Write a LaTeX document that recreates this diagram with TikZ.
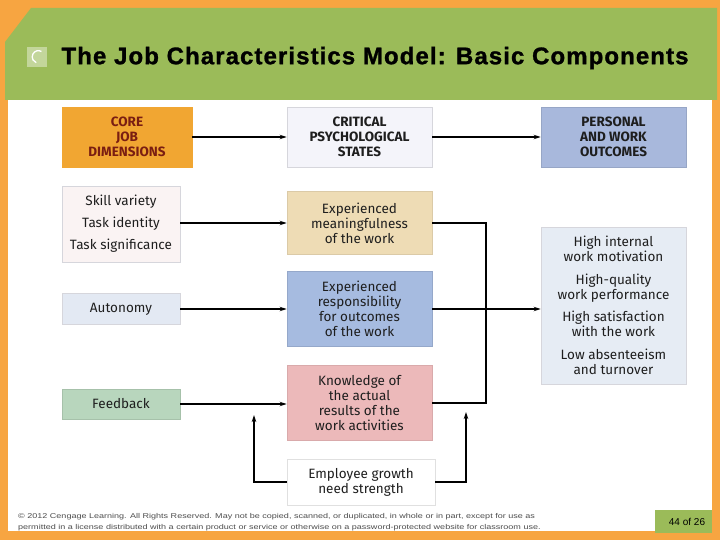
\documentclass[tikz,border=0pt]{standalone}
\usepackage{fontspec}
\setmainfont{Fira Sans}
\newfontfamily\titlefont[LetterSpace=4.5,FakeBold=1.2]{Liberation Sans}
\newfontfamily\footfont{Liberation Sans}
\usetikzlibrary{arrows.meta}
\definecolor{frameorange}{HTML}{F7A541}
\definecolor{titlegreen}{HTML}{9BBB59}
\definecolor{coreorange}{HTML}{F1A632}
\definecolor{coretext}{HTML}{7A1E12}
\definecolor{critfill}{HTML}{F4F4FA}
\definecolor{persfill}{HTML}{A8B8DC}
\definecolor{skillfill}{HTML}{FAF3F3}
\definecolor{meanfill}{HTML}{EEDCB5}
\definecolor{outcfill}{HTML}{E6ECF4}
\definecolor{autofill}{HTML}{E3E9F3}
\definecolor{respfill}{HTML}{A6BBE0}
\definecolor{feedfill}{HTML}{B8D6BD}
\definecolor{knowfill}{HTML}{ECB9BA}
\definecolor{boxline}{HTML}{D6D6DC}
\definecolor{textdark}{HTML}{1E1E1E}
\tikzset{
  box/.style={draw=boxline, line width=0.8pt, align=center, inner sep=0pt,
    font=\fontsize{13.5}{15}\selectfont, text=textdark},
  headbox/.style={box, font=\fontsize{13.5}{15}\selectfont\bfseries},
  arr/.style={line width=1.3pt, -{Stealth[length=7pt,width=4.5pt]}},
  ln/.style={line width=1.3pt},
}
\begin{document}
\begin{tikzpicture}[x=1pt,y=-1pt]
\useasboundingbox (0,0) rectangle (720,540);
% frame
\fill[frameorange] (0,0) rectangle (720,540);
\fill[white] (8,100) rectangle (712,531);
% title banner
\fill[titlegreen] (31,8) -- (717,8) -- (717,100) -- (5,100) -- (5,42) -- cycle;
\fill[titlegreen!60!white] (27,47) rectangle (47,67);
\draw[white, line width=1.3pt] (41.5,51.5) arc[start angle=60, end angle=250, radius=6.2pt];
\node[anchor=west, font=\titlefont\fontsize{24}{26}\selectfont\bfseries] (title) at (58,58) {The Job Characteristics Model: Basic Components};

% column headers
\node[headbox, fill=coreorange, draw=coreorange, text=coretext, minimum width=130pt, minimum height=60pt] (core) at (127,137) {CORE\\JOB\\DIMENSIONS};
\node[headbox, fill=critfill, minimum width=145pt, minimum height=60pt] (crit) at (359.5,137) {CRITICAL\\PSYCHOLOGICAL\\STATES};
\node[headbox, fill=persfill, draw=persfill!90!black, minimum width=145pt, minimum height=60pt] (pers) at (613.5,137) {PERSONAL\\AND WORK\\OUTCOMES};

% core job dimensions
\node[box, fill=skillfill, minimum width=118pt, minimum height=76pt, font=\fontsize{13.5}{22}\selectfont] (skill) at (121,224) {Skill variety\\Task identity\\Task significance};
\node[box, fill=autofill, minimum width=118pt, minimum height=31pt] (auto) at (121,309) {Autonomy};
\node[box, fill=feedfill, draw=feedfill!90!black, minimum width=118pt, minimum height=30pt] (feed) at (121,404) {Feedback};

% critical psychological states
\node[box, fill=meanfill, draw=meanfill!92!black, minimum width=145pt, minimum height=63pt] (mean) at (359.5,223) {Experienced\\meaningfulness\\of the work};
\node[box, fill=respfill, draw=respfill!90!black, minimum width=145pt, minimum height=75pt] (resp) at (359.5,309) {Experienced\\responsibility\\for outcomes\\of the work};
\node[box, fill=knowfill, draw=knowfill!92!black, minimum width=145pt, minimum height=75pt] (know) at (359.5,403) {Knowledge of\\the actual\\results of the\\work activities};
\node[box, fill=white, draw=black!12, minimum width=148pt, minimum height=46pt] (grow) at (361,482) {Employee growth\\need strength};

% outcomes
\node[box, fill=outcfill, minimum width=145pt, minimum height=157pt] (outc) at (613.5,305.5) {High internal\\work motivation\\[7.5pt]High-quality\\work performance\\[7.5pt]High satisfaction\\with the work\\[7.5pt]Low absenteeism\\and turnover};

% connectors
\draw[arr] (core.east) -- (core.east -| crit.west);
\draw[arr] (crit.east) -- (crit.east -| pers.west);
\draw[arr] (skill.east |- mean.east) -- (mean.west);
\draw[arr] (auto.east) -- (auto.east -| resp.west);
\draw[arr] (feed.east) -- (feed.east -| know.west);
\coordinate (join) at (486,309);
\draw[ln] (mean.east) -| (join);
\draw[ln] (know.east) -| (join);
\draw[arr] (resp.east) -- (resp.east -| outc.west);
\coordinate (gleft) at (254,415);
\coordinate (gright) at (466,412);
\draw[arr] (grow.west) -| (gleft);
\draw[arr] (grow.east) -| (gright);

% footer
\node[anchor=west, align=left, text=black!70, font=\footfont\fontsize{7}{11}\selectfont, inner sep=0pt] (foot) at (18,522.5) {\scalebox{1.29}[1]{\copyright{} 2012 Cengage Learning. All Rights Reserved. May not be copied, scanned, or duplicated, in whole or in part, except for use as}\\\scalebox{1.29}[1]{permitted in a license distributed with a certain product or service or otherwise on a password-protected website for classroom use.}};
\fill[titlegreen] (655,510) rectangle (712,533);
\node[font=\footfont\fontsize{10}{11}\selectfont, text=black] (page) at (687,522) {44 of 26};
\end{tikzpicture}
\end{document}
